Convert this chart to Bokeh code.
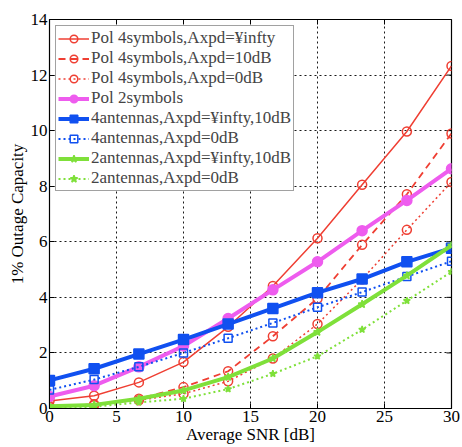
from bokeh.plotting import figure
from bokeh.models import Legend, LegendItem, FixedTicker, Range1d
from bokeh.embed import file_html
from bokeh.resources import INLINE

snr = [0, 3.33, 6.67, 10, 13.33, 16.67, 20, 23.33, 26.67, 30]
pol4_inf = [0.27, 0.46, 0.94, 1.67, 2.94, 4.41, 6.13, 8.05, 9.97, 12.33]
pol4_10 = [0.08, 0.15, 0.35, 0.77, 1.34, 2.6, 3.96, 5.89, 7.71, 9.9]
pol4_0 = [0.05, 0.12, 0.3, 0.53, 0.98, 1.8, 3.04, 4.65, 6.43, 8.15]
pol2 = [0.43, 0.82, 1.5, 2.25, 3.24, 4.27, 5.28, 6.4, 7.49, 8.63]
ant4_inf = [1.01, 1.43, 1.96, 2.48, 3.04, 3.6, 4.17, 4.66, 5.28, 5.77]
ant4_0 = [0.67, 1.04, 1.5, 2.0, 2.53, 3.08, 3.64, 4.19, 4.75, 5.3]
ant2_inf = [0.08, 0.13, 0.35, 0.65, 1.13, 1.8, 2.75, 3.75, 4.78, 5.87]
ant2_0 = [0.03, 0.06, 0.22, 0.35, 0.7, 1.25, 1.88, 2.84, 3.88, 4.92]

labels = [
    "Pol 4symbols,Axpd=¥infty",
    "Pol 4symbols,Axpd=10dB",
    "Pol 4symbols,Axpd=0dB",
    "Pol 2symbols",
    "4antennas,Axpd=¥infty,10dB",
    "4antennas,Axpd=0dB",
    "2antennas,Axpd=¥infty,10dB",
    "2antennas,Axpd=0dB",
]
x_ticks = [0, 5, 10, 15, 20, 25, 30]
y_ticks = [0, 2, 4, 6, 8, 10, 12, 14]
x_title = "Average SNR [dB]"
y_title = "1% Outage Capacity"

RED = "#ef3f33"
MAG = "#ee5cee"
BLUE = "#1050f0"
GREEN = "#7fe03a"
FONT = "'Liberation Serif', serif"
X0, X1, Y0, Y1 = 0, 30, 0, 14

p = figure(width=462, height=447, output_backend="svg", toolbar_location=None,
           x_range=Range1d(X0, X1), y_range=Range1d(Y0, Y1),
           min_border_left=49, min_border_right=11, min_border_top=19, min_border_bottom=39)
p.outline_line_color = "black"
p.outline_line_width = 1.2
p.background_fill_color = "white"
p.border_fill_color = "white"

for ax in (p.xaxis[0], p.yaxis[0]):
    ax.major_label_text_font = FONT
    ax.major_label_text_font_size = "17px"
    ax.major_label_text_color = "black"
    ax.axis_label_text_font = FONT
    ax.axis_label_text_font_size = "17px"
    ax.axis_label_text_font_style = "normal"
    ax.axis_label_text_color = "black"
    ax.major_tick_in = 5
    ax.major_tick_out = 0
    ax.minor_tick_in = 0
    ax.minor_tick_out = 0
    ax.axis_line_color = "black"
    ax.major_tick_line_color = "black"

p.xaxis.ticker = FixedTicker(ticks=x_ticks)
p.yaxis.ticker = FixedTicker(ticks=y_ticks)
p.xaxis.axis_label = x_title
p.yaxis.axis_label = y_title
p.xaxis.major_label_standoff = 2
p.xaxis.axis_label_standoff = 0
p.yaxis.major_label_standoff = 2
p.yaxis.axis_label_standoff = 1

for g in (p.xgrid[0], p.ygrid[0]):
    g.grid_line_color = "black"
    g.grid_line_dash = "2 3"
    g.grid_line_width = 1
    g.grid_line_alpha = 0.9

# mirrored inward tick marks on the top and right frame edges (tick length ~5px)
TLX = 0.37  # x data units for 5px
TLY = 0.18  # y data units for 5px
p.segment(x0=x_ticks, y0=[Y1] * len(x_ticks), x1=x_ticks, y1=[Y1 - TLY] * len(x_ticks),
          line_color="black", line_width=1)
p.segment(x0=[X1] * len(y_ticks), y0=y_ticks, x1=[X1 - TLX] * len(y_ticks), y1=y_ticks,
          line_color="black", line_width=1)

items = []

def add(y, label, color, lw, dash, marker, size, fill):
    r1 = p.line(snr, y, line_color=color, line_width=lw, line_dash=dash)
    r2 = p.scatter(snr, y, marker=marker, size=size, line_color=color,
                   fill_color=(color if fill else "white"),
                   fill_alpha=(1 if fill else 0), line_width=1.5)
    items.append(LegendItem(label=label, renderers=[r1, r2]))

add(pol4_inf, labels[0], RED, 1.5, "solid", "circle", 9, False)
add(pol4_10, labels[1], RED, 1.8, "7 5", "circle", 9, False)
add(pol4_0, labels[2], RED, 1.5, "2 3", "circle", 9, False)
add(pol2, labels[3], MAG, 4, "solid", "circle", 10, True)
add(ant4_inf, labels[4], BLUE, 4, "solid", "square", 10, True)
add(ant4_0, labels[5], BLUE, 2, "2 3", "square", 8, False)
add(ant2_inf, labels[6], GREEN, 4, "solid", "star", 8, True)
add(ant2_0, labels[7], GREEN, 2, "2 3", "star", 7, True)

legend = Legend(items=items, location="top_left", margin=6, padding=2, spacing=0,
                label_height=19, glyph_height=19, glyph_width=31, label_standoff=2,
                label_text_font=FONT, label_text_font_size="17px",
                label_text_line_height=1.0,
                border_line_color="#444444", border_line_width=1.5,
                background_fill_color="white", background_fill_alpha=1)
p.add_layout(legend)

open("out.html", "w").write(file_html(p, INLINE))
